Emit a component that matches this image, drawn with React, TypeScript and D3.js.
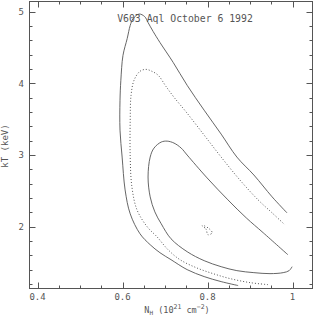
import * as d3 from 'd3';
import { useEffect, useRef } from 'react';

const title = 'V603 Aql October 6 1992';
const xLabelTicks = [0.4, 0.6, 0.8, 1];
const yLabelTicks = [2, 3, 4, 5];

// confidence contours, as [N_H, kT] pairs
const contourOuter = [
  [0.872, 1.181], [0.832, 1.236], [0.792, 1.306], [0.752, 1.403], [0.714, 1.542],
  [0.688, 1.639], [0.665, 1.75], [0.641, 1.903], [0.618, 2.181], [0.606, 2.514],
  [0.599, 2.972], [0.594, 3.347], [0.594, 3.764], [0.596, 4.042], [0.601, 4.389],
  [0.611, 4.625], [0.618, 4.806], [0.625, 4.903], [0.639, 4.965], [0.652, 4.93],
  [0.66, 4.847], [0.672, 4.722], [0.688, 4.569], [0.719, 4.292], [0.752, 3.972],
  [0.792, 3.625], [0.832, 3.292], [0.869, 2.972], [0.909, 2.722], [0.952, 2.417],
  [0.987, 2.194],
];

const contourMiddle = [
  [0.942, 1.194], [0.9, 1.222], [0.853, 1.278], [0.813, 1.347], [0.773, 1.431],
  [0.735, 1.542], [0.707, 1.681], [0.681, 1.861], [0.658, 2.0], [0.634, 2.236],
  [0.622, 2.556], [0.618, 2.972], [0.618, 3.486], [0.62, 3.833], [0.627, 4.042],
  [0.641, 4.167], [0.655, 4.194], [0.669, 4.167], [0.684, 4.111], [0.702, 3.958],
  [0.721, 3.806], [0.752, 3.583], [0.792, 3.278], [0.832, 2.972], [0.876, 2.653],
  [0.919, 2.375], [0.952, 2.194], [0.982, 2.028],
];

const contourInner = [
  [0.999, 1.444], [0.992, 1.389], [0.978, 1.361], [0.947, 1.347], [0.909, 1.361],
  [0.869, 1.389], [0.832, 1.444], [0.792, 1.528], [0.752, 1.653], [0.714, 1.833],
  [0.691, 2.042], [0.676, 2.208], [0.665, 2.417], [0.66, 2.694], [0.665, 2.972],
  [0.674, 3.097], [0.691, 3.181], [0.705, 3.194], [0.721, 3.167], [0.738, 3.097],
  [0.752, 3.0], [0.799, 2.681], [0.848, 2.375], [0.891, 2.125], [0.931, 1.917],
  [0.989, 1.611],
];

// small dotted island around the best fit
const bestFitIsland = [
  [0.787, 2.014], [0.796, 1.972], [0.801, 1.889], [0.811, 1.917], [0.804, 1.972], [0.792, 2.014],
];

const FONT = 'DejaVu Sans Mono, monospace';
const INK = '#555';

const ContourChart = () => {
  const svgRef = useRef(null);

  useEffect(() => {
    const svg = d3.select(svgRef.current);
    svg.selectAll('*').remove();

    const left = 29.5, right = 312.5, top = 1.5, bottom = 288.5;

    const x = d3.scaleLinear().domain([0.381, 1.047]).range([left, right]);
    const y = d3.scaleLinear().domain([1.14, 5.14]).range([bottom, top]);

    // frame
    svg.append('rect')
      .attr('x', left).attr('y', top)
      .attr('width', right - left).attr('height', bottom - top)
      .attr('fill', 'none').attr('stroke', INK).attr('stroke-width', 1);

    const xMinor = d3.range(0.4, 1.04, 0.05);
    const yMinor = d3.range(1.2, 5.1, 0.2);
    const isMajor = (v, list) => list.some(m => Math.abs(m - v) < 1e-6);

    const ticks = svg.append('g').attr('stroke', INK).attr('stroke-width', 1);
    xMinor.forEach(v => {
      const len = isMajor(v, xLabelTicks) ? 6 : 3;
      const px = Math.round(x(v)) + 0.5;
      ticks.append('line').attr('x1', px).attr('x2', px).attr('y1', bottom).attr('y2', bottom - len);
      ticks.append('line').attr('x1', px).attr('x2', px).attr('y1', top).attr('y2', top + len);
    });
    yMinor.forEach(v => {
      const len = isMajor(v, yLabelTicks) ? 6 : 3;
      const py = Math.round(y(v)) + 0.5;
      ticks.append('line').attr('y1', py).attr('y2', py).attr('x1', left).attr('x2', left + len);
      ticks.append('line').attr('y1', py).attr('y2', py).attr('x1', right).attr('x2', right - len);
    });

    // tick labels
    svg.append('g').selectAll('text')
      .data(xLabelTicks)
      .enter()
      .append('text')
      .attr('x', d => x(d))
      .attr('y', 300)
      .attr('text-anchor', 'middle')
      .style('font-family', FONT).style('font-size', '9px').style('fill', INK)
      .text(d => (d === 1 ? '1' : d.toFixed(1)));

    svg.append('g').selectAll('text')
      .data(yLabelTicks)
      .enter()
      .append('text')
      .attr('x', 24)
      .attr('y', d => y(d) + 3.3)
      .attr('text-anchor', 'end')
      .style('font-family', FONT).style('font-size', '9px').style('fill', INK)
      .text(d => String(d));

    // contours
    const line = d3.line()
      .x(d => x(d[0]))
      .y(d => y(d[1]))
      .curve(d3.curveCatmullRom);

    const drawContour = (pts, dotted) => {
      svg.append('path')
        .attr('d', line(pts))
        .attr('fill', 'none')
        .attr('stroke', INK)
        .attr('stroke-width', dotted ? 1 : 0.9)
        .attr('stroke-dasharray', dotted ? '1 2' : null);
    };
    drawContour(contourOuter, false);
    drawContour(contourMiddle, true);
    drawContour(contourInner, false);

    svg.append('path')
      .attr('d', d3.line().x(d => x(d[0])).y(d => y(d[1])).curve(d3.curveCatmullRomClosed)(bestFitIsland))
      .attr('fill', 'none')
      .attr('stroke', INK)
      .attr('stroke-width', 1)
      .attr('stroke-dasharray', '1 2');

    // title
    svg.append('text')
      .attr('x', 185).attr('y', 22)
      .attr('text-anchor', 'middle')
      .style('font-family', FONT).style('font-size', '9.8px').style('fill', INK)
      .text(title);

    // axis titles
    const xt = svg.append('text')
      .attr('x', 177).attr('y', 313)
      .attr('text-anchor', 'middle')
      .style('font-family', FONT).style('font-size', '8.5px').style('fill', INK);
    xt.append('tspan').text('N');
    xt.append('tspan').attr('dy', 2).style('font-size', '6px').text('H');
    xt.append('tspan').attr('dy', -2).text(' (10');
    xt.append('tspan').attr('dy', -4).style('font-size', '6.5px').text('21');
    xt.append('tspan').attr('dy', 4).text(' cm');
    xt.append('tspan').attr('dy', -4).style('font-size', '6.5px').text('−2');
    xt.append('tspan').attr('dy', 4).text(')');

    svg.append('text')
      .attr('transform', 'translate(8,146) rotate(-90)')
      .attr('text-anchor', 'middle')
      .style('font-family', FONT).style('font-size', '9px').style('fill', INK)
      .text('kT (keV)');
  }, []);

  return (
    <svg ref={svgRef} width={314} height={317}
      style={{ position: 'absolute', left: 0, top: 0, background: '#fff' }}></svg>
  );
};

export default function App() {
  return <ContourChart />;
}
